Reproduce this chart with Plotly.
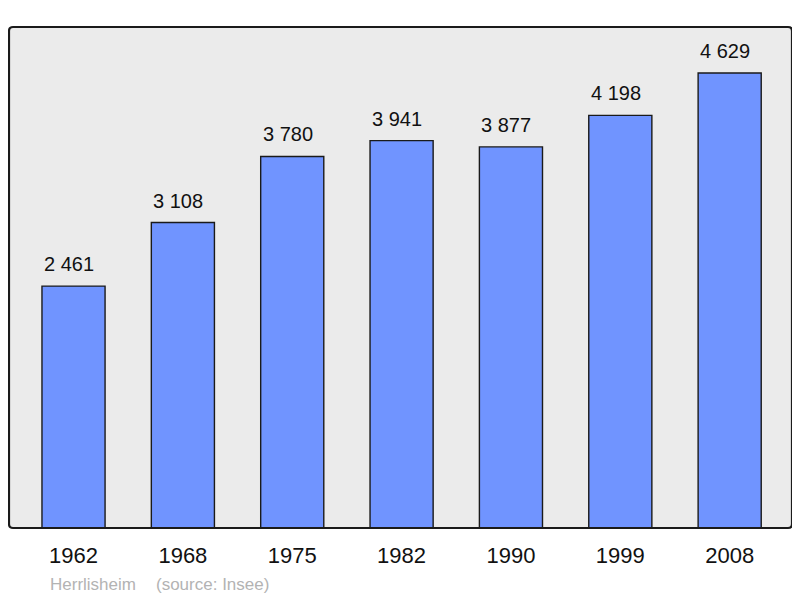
import plotly.graph_objects as go

years = ["1962", "1968", "1975", "1982", "1990", "1999", "2008"]
population = [2461, 3108, 3780, 3941, 3877, 4198, 4629]
place = "Herrlisheim"
source = "(source: Insee)"

# page body has an 8px offset; compensate
OFF = 8
W, H = 800 - OFF, 598 - OFF
L, R, T, B = 9 - OFF, 8, 27 - OFF, 598 - 528
PW, PH = W - L - R, H - T - B

FONT = "Liberation Sans, Arial"
BAR_W = 0.577

fig = go.Figure()
fig.add_trace(go.Bar(
    x=list(range(len(years))), y=population,
    width=BAR_W,
    marker=dict(color="#7094ff", line=dict(color="#1a1a1a", width=1.4)),
    hoverinfo="skip",
))

for i, v in enumerate(population):
    fig.add_annotation(x=i - BAR_W / 2, y=v, text=f"{v:,}".replace(",", " "),
                       showarrow=False, xanchor="left", yanchor="bottom", yshift=9,
                       font=dict(family=FONT, size=20, color="#111111"))

fy = -(584 - 528) / PH
fig.add_annotation(xref="paper", yref="paper", x=(48 - 9) / PW, y=fy,
                   text=place, showarrow=False, xanchor="left", yanchor="middle",
                   font=dict(family=FONT, size=17, color="#b3b3b3"))
fig.add_annotation(xref="paper", yref="paper", x=(154 - 9) / PW, y=fy,
                   text=source, showarrow=False, xanchor="left", yanchor="middle",
                   font=dict(family=FONT, size=17, color="#b3b3b3"))

rx, ry = 4 / PW, 4 / PH
path = (f"M {rx},0 L {1-rx},0 Q 1,0 1,{ry} L 1,{1-ry} Q 1,1 {1-rx},1 "
        f"L {rx},1 Q 0,1 0,{1-ry} L 0,{ry} Q 0,0 {rx},0 Z")
fig.add_shape(type="path", xref="paper", yref="paper", path=path,
              line=dict(color="#1a1a1a", width=2.2), fillcolor="rgba(0,0,0,0)", layer="above")

fig.update_layout(
    width=W, height=H,
    margin=dict(l=L, r=R, t=T, b=B, pad=0),
    paper_bgcolor="white", plot_bgcolor="#ebebeb",
    showlegend=False,
    xaxis=dict(range=[-0.59, 6.57], tickvals=list(range(len(years))), ticktext=years,
               showgrid=False, zeroline=False, ticks="outside", ticklen=8,
               tickcolor="rgba(0,0,0,0)",
               tickfont=dict(family=FONT, size=22, color="#111111")),
    yaxis=dict(range=[0, 5097], showgrid=False, zeroline=False, showticklabels=False),
)

fig.write_html("out.html")
